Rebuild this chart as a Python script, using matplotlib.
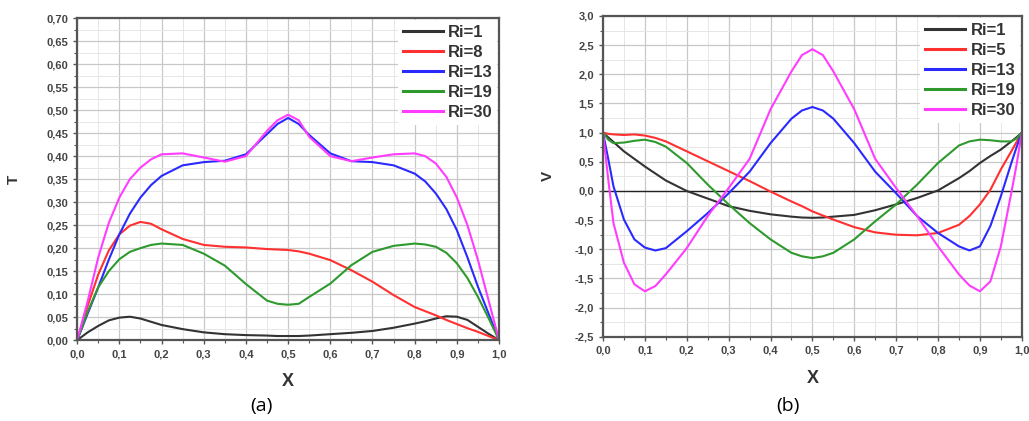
import matplotlib
matplotlib.use("Agg")
import matplotlib.pyplot as plt
from matplotlib.ticker import FuncFormatter, MultipleLocator

# ---- (a) temperature T(X) ----
x_t = [0.0, 0.025, 0.05, 0.075, 0.1, 0.125, 0.15, 0.175, 0.2, 0.25, 0.3, 0.35, 0.4, 0.45, 0.475,
       0.5, 0.525, 0.55, 0.6, 0.65, 0.7, 0.75, 0.8, 0.825, 0.85, 0.875, 0.9, 0.925, 0.95, 0.975, 1.0]
t_labels = ["Ri=1", "Ri=8", "Ri=13", "Ri=19", "Ri=30"]
t_ri1 = [0.0, 0.017, 0.031, 0.043, 0.049, 0.051, 0.047, 0.040, 0.033, 0.024, 0.017, 0.013, 0.011,
         0.010, 0.009, 0.009, 0.009, 0.010, 0.013, 0.016, 0.020, 0.027, 0.036, 0.041, 0.047, 0.052,
         0.051, 0.044, 0.029, 0.014, 0.0]
t_ri8 = [0.0, 0.075, 0.143, 0.195, 0.230, 0.249, 0.257, 0.253, 0.241, 0.220, 0.207, 0.203, 0.2015,
         0.198, 0.197, 0.196, 0.193, 0.188, 0.174, 0.152, 0.127, 0.098, 0.072, 0.063, 0.054, 0.044,
         0.035, 0.026, 0.018, 0.009, 0.0]
t_ri13 = [0.0, 0.058, 0.115, 0.175, 0.230, 0.275, 0.310, 0.337, 0.357, 0.380, 0.387, 0.390, 0.404,
          0.448, 0.470, 0.483, 0.470, 0.446, 0.406, 0.389, 0.387, 0.380, 0.362, 0.345, 0.319, 0.285,
          0.239, 0.180, 0.116, 0.058, 0.0]
t_ri19 = [0.0, 0.062, 0.115, 0.150, 0.176, 0.192, 0.200, 0.207, 0.210, 0.207, 0.188, 0.162, 0.122,
          0.086, 0.079, 0.077, 0.079, 0.094, 0.123, 0.163, 0.192, 0.205, 0.210, 0.208, 0.203, 0.190,
          0.167, 0.135, 0.094, 0.048, 0.0]
t_ri30 = [0.0, 0.085, 0.180, 0.255, 0.310, 0.350, 0.375, 0.393, 0.404, 0.406, 0.397, 0.388, 0.400,
          0.455, 0.478, 0.490, 0.478, 0.442, 0.400, 0.389, 0.397, 0.404, 0.406, 0.400, 0.384, 0.355,
          0.310, 0.250, 0.174, 0.087, 0.0]

# ---- (b) velocity V(X) ----
x_v = [0.0, 0.0125, 0.025, 0.05, 0.075, 0.1, 0.125, 0.15, 0.2, 0.25, 0.3, 0.35, 0.4, 0.45, 0.475,
       0.5, 0.525, 0.55, 0.6, 0.65, 0.7, 0.75, 0.8, 0.85, 0.875, 0.9, 0.925, 0.95, 0.975, 0.9875, 1.0]
v_labels = ["Ri=1", "Ri=5", "Ri=13", "Ri=19", "Ri=30"]
v_ri1 = [1.0, 0.92, 0.84, 0.68, 0.55, 0.42, 0.30, 0.18, 0.0, -0.13, -0.26, -0.34, -0.40, -0.44,
         -0.455, -0.46, -0.455, -0.44, -0.41, -0.33, -0.23, -0.12, 0.01, 0.22, 0.34, 0.48, 0.60,
         0.71, 0.85, 0.92, 1.0]
v_ri5 = [1.0, 0.98, 0.97, 0.96, 0.97, 0.95, 0.91, 0.85, 0.68, 0.51, 0.34, 0.17, -0.01, -0.18,
         -0.26, -0.35, -0.42, -0.49, -0.62, -0.71, -0.75, -0.76, -0.72, -0.58, -0.43, -0.23, 0.02,
         0.37, 0.68, 0.84, 1.0]
v_ri13 = [1.0, 0.55, 0.08, -0.49, -0.83, -0.97, -1.02, -0.98, -0.69, -0.38, -0.04, 0.33, 0.82,
          1.24, 1.38, 1.44, 1.38, 1.24, 0.82, 0.33, -0.04, -0.43, -0.72, -0.95, -1.02, -0.95, -0.60,
          -0.09, 0.48, 0.75, 1.0]
v_ri19 = [1.0, 0.88, 0.82, 0.83, 0.86, 0.88, 0.84, 0.76, 0.48, 0.11, -0.23, -0.55, -0.83, -1.06,
          -1.12, -1.15, -1.12, -1.06, -0.83, -0.52, -0.23, 0.11, 0.48, 0.78, 0.85, 0.88, 0.87, 0.85,
          0.85, 0.90, 1.0]
v_ri30 = [1.0, 0.20, -0.55, -1.23, -1.60, -1.72, -1.63, -1.43, -0.98, -0.43, 0.05, 0.55, 1.40,
          2.05, 2.33, 2.43, 2.33, 2.05, 1.40, 0.55, 0.05, -0.43, -0.95, -1.43, -1.62, -1.72, -1.55,
          -0.95, -0.03, 0.45, 1.0]

COLORS = ["#333333", "#ff3030", "#2a2aff", "#2e9a2e", "#ff3cff"]

plt.rcParams["font.family"] = ["Liberation Sans", "DejaVu Sans"]


def comma_fmt(decimals):
    return FuncFormatter(lambda v, _: f"{v:.{decimals}f}".replace(".", ","))


def style_axes(ax, ydec, ymajor, yminor):
    ax.xaxis.set_major_locator(MultipleLocator(0.1))
    ax.xaxis.set_minor_locator(MultipleLocator(0.05))
    ax.yaxis.set_major_locator(MultipleLocator(ymajor))
    ax.yaxis.set_minor_locator(MultipleLocator(yminor))
    ax.xaxis.set_major_formatter(comma_fmt(1))
    ax.yaxis.set_major_formatter(comma_fmt(ydec))
    ax.grid(which="major", color="#c8c8c8", lw=0.9)
    ax.grid(which="minor", color="#e6e6e6", lw=0.7)
    ax.set_axisbelow(True)
    for sp in ax.spines.values():
        sp.set_color("#555555")
        sp.set_linewidth(1.6)
    ax.tick_params(which="major", direction="out", length=3, width=1, colors="#555555",
                   labelsize=8, labelcolor="#444444")
    ax.tick_params(which="minor", direction="out", length=2, width=0.8, colors="#555555")
    for lab in ax.get_xticklabels() + ax.get_yticklabels():
        lab.set_fontweight("bold")


fig = plt.figure(figsize=(10.29, 4.21), dpi=100)
ax1 = fig.add_axes([0.075, 0.192, 0.410, 0.765])
ax2 = fig.add_axes([0.586, 0.200, 0.407, 0.762])

for ys, lab, c in zip([t_ri1, t_ri8, t_ri13, t_ri19, t_ri30], t_labels, COLORS):
    ax1.plot(x_t, ys, color=c, lw=1.5, label=lab)
ax1.set_xlim(0, 1)
ax1.set_ylim(0, 0.70)
style_axes(ax1, 2, 0.05, 0.025)
ax1.set_xlabel("X", fontsize=13, fontweight="bold", color="#333333", labelpad=10)
ax1.set_ylabel("T", fontsize=11, fontweight="bold", color="#333333", labelpad=18)

ax2.axhline(0, color="#222222", lw=1.0)
for ys, lab, c in zip([v_ri1, v_ri5, v_ri13, v_ri19, v_ri30], v_labels, COLORS):
    ax2.plot(x_v, ys, color=c, lw=1.5, label=lab)
ax2.set_xlim(0, 1)
ax2.set_ylim(-2.5, 3.0)
style_axes(ax2, 1, 0.5, 0.25)
ax2.set_xlabel("X", fontsize=13, fontweight="bold", color="#333333", labelpad=10)
ax2.set_ylabel("V", fontsize=11, fontweight="bold", color="#333333", labelpad=14)

for ax in (ax1, ax2):
    leg = ax.legend(loc="upper right", frameon=True, facecolor="white", edgecolor="none",
                    framealpha=1, fontsize=12, handlelength=2.4, handletextpad=0.3,
                    labelspacing=0.3, borderaxespad=0.1, borderpad=0.3)
    for txt in leg.get_texts():
        txt.set_fontweight("bold")
        txt.set_color("#333333")
    for h in leg.get_lines():
        h.set_linewidth(2.2)

fig.text(0.254, 0.035, "(a)", fontsize=14, ha="center", va="center", family=["Open Sans", "DejaVu Sans"])
fig.text(0.766, 0.035, "(b)", fontsize=14, ha="center", va="center", family=["Open Sans", "DejaVu Sans"])

fig.savefig("out.png", dpi=100)
